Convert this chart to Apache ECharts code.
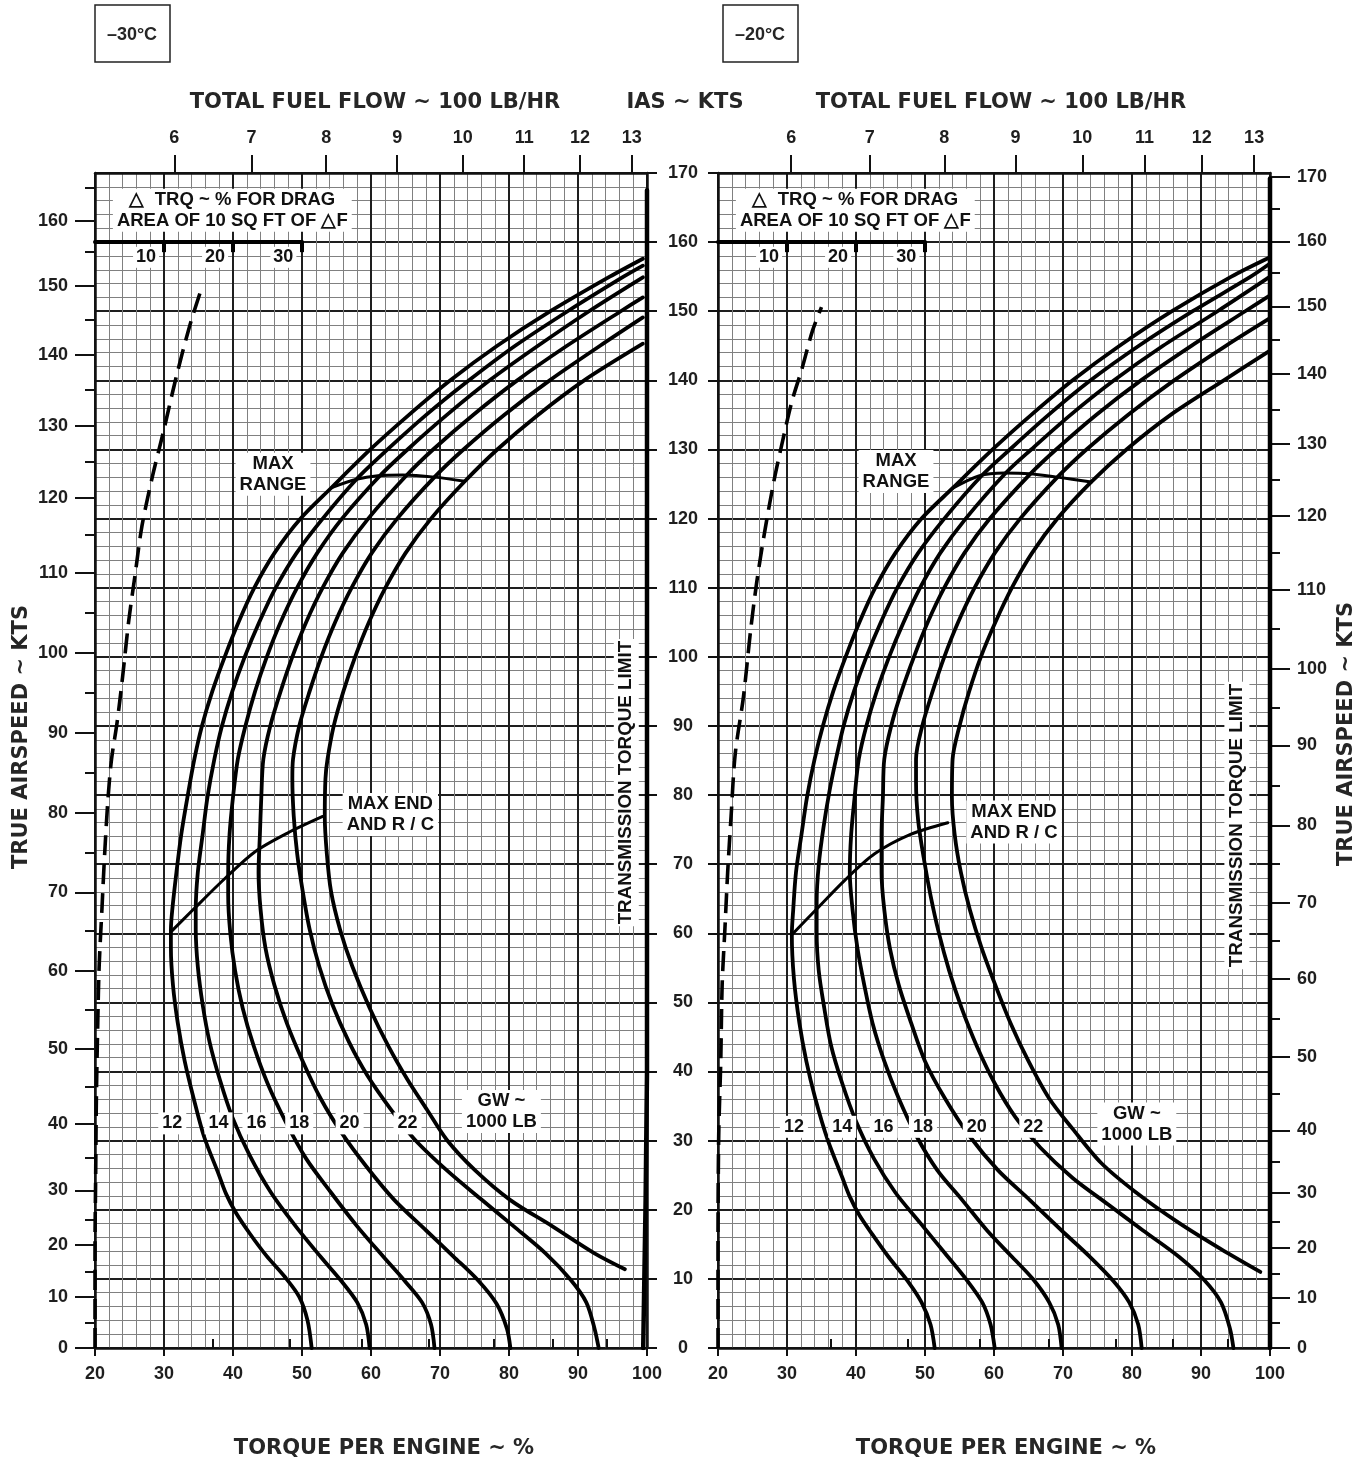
<!DOCTYPE html>
<html><head><meta charset="utf-8">
<script src="https://cdn.jsdelivr.net/npm/echarts@6/dist/echarts.min.js"></script>
<style>html,body{margin:0;padding:0;background:#fff}#c{width:1369px;height:1461px}</style>
</head><body><div id="c"></div>
<script>
// ---------------- DATA ----------------
const panelTemps = ['–30°C', '–20°C'];
const gwNames = ['12', '14', '16', '18', '20', '22'];

// top fuel-flow scale (100 LB/HR), each tick at the torque value it sits over
const ffLabels = ['6', '7', '8', '9', '10', '11', '12', '13'];
const ffTorqueL = [31.5, 42.7, 53.5, 63.8, 73.3, 82.2, 90.3, 97.8];
const ffMinorTorqueL = [37.1, 48.2, 58.7, 68.4, 77.8, 86.3, 94.1];
const ffTorqueR = [30.6, 42.0, 52.8, 63.1, 72.8, 81.8, 90.1, 97.7];
const ffMinorTorqueR = [36.3, 47.5, 58.0, 68.0, 77.7, 85.9, 93.9];

// true-airspeed scales, each tick at its IAS position
const tasLabelsL = ['0','10','20','30','40','50','60','70','80','90','100','110','120','130','140','150','160'];
const tasIasL = [0, 7.4, 14.9, 22.8, 32.4, 43.3, 54.6, 65.9, 77.4, 89.0, 100.6, 112.1, 123.0, 133.4, 143.7, 153.7, 163.1];
const tasMinorIasL = [3.7, 11.1, 18.5, 27.5, 37.8, 49.0, 60.3, 71.7, 83.2, 94.8, 106.4, 117.6, 128.2, 138.6, 148.7, 158.6, 167.8];
const tasLabelsR = ['0','10','20','30','40','50','60','70','80','90','100','110','120','130','140','150','160','170'];
const tasIasR = [0, 7.2, 14.5, 22.4, 31.5, 42.1, 53.4, 64.4, 75.6, 87.2, 98.3, 109.7, 120.4, 130.8, 140.9, 150.7, 160.1, 169.4];
const tasMinorIasR = [3.6, 10.8, 18.3, 26.9, 36.8, 47.7, 58.9, 70.0, 81.4, 92.7, 104.0, 115.0, 125.6, 135.8, 145.9, 155.6, 164.9];

// GW curves, -30C  [torque %, IAS kt]
const L12 = [[51.4,0],[50.8,4.0],[49.6,7.4],[47.5,10.3],[44.8,13.4],[42.4,16.6],[40.4,19.6],[39.0,22.3],[37.9,25.2],[35.8,30.6],[34.3,36.1],[33.0,41.5],[32.0,47.0],[31.3,52.5],[31.0,57.9],[31.0,60.5],[31.2,63.4],[31.8,68.8],[32.5,74.3],[33.4,79.7],[34.4,85.2],[35.5,90],[37.0,95],[38.8,100],[40.8,105],[43.1,110],[46.0,115],[49.8,120],[54.3,124.5],[59.9,130],[65.5,135],[71.5,140],[78.3,145],[86.0,150],[94.6,155],[99.4,157.6]];
const L14 = [[59.8,0],[59.3,3.4],[58.0,6.6],[55.7,9.7],[52.7,13.2],[49.1,17.6],[45.5,22.5],[42.4,27.9],[39.9,33.4],[38.1,38.8],[36.6,44.3],[35.6,49.7],[34.9,55.2],[34.6,60.6],[34.6,63.4],[34.9,68.8],[35.6,74.3],[36.3,79.7],[37.3,85.2],[38.4,90],[39.9,95],[41.7,100],[43.8,105],[46.2,110],[49.2,115],[53.0,120],[57.9,125.7],[62.4,130],[68.0,135],[74.2,140],[80.9,145],[88.5,150],[96.6,155],[99.4,156.6]];
const L16 = [[69.2,0],[68.7,3.4],[67.4,6.6],[64.9,9.7],[61.8,13.2],[58.0,17.6],[54.2,22.5],[50.6,27.4],[47.6,32.8],[45.0,38.3],[43.0,43.7],[41.4,49.2],[40.3,54.6],[39.6,60.1],[39.3,65.5],[39.3,68.8],[39.5,74.3],[40.0,79.7],[40.7,85.2],[41.8,90],[43.2,95],[44.9,100],[46.9,105],[49.3,110],[52.2,115],[55.8,120],[61.3,126.2],[65.3,130],[71.0,135],[77.2,140],[84.2,145],[91.6,150],[99.4,154.9]];
const L18 = [[80.2,0],[79.7,2.8],[78.2,6.4],[75.6,9.7],[72.0,13.2],[68.0,17.0],[63.4,21.4],[59.3,26.3],[55.7,31.2],[52.7,36.1],[50.1,41.5],[47.8,47.0],[46.0,52.5],[44.7,57.9],[44.0,63.4],[43.7,68.8],[43.9,74.3],[44.1,79.7],[44.4,85.2],[45.4,90],[46.9,95],[48.6,100],[50.6,105],[53.0,110],[55.9,115],[59.6,120],[65.2,126.3],[69.0,130],[74.8,135],[81.2,140],[88.4,145],[96.2,150],[99.4,152.0]];
const L20 = [[93.0,0],[92.4,2.8],[91.2,6.6],[88.9,9.9],[85.3,13.7],[80.7,17.6],[76.1,21.4],[71.0,25.7],[66.4,30.1],[62.9,34.5],[59.5,39.4],[56.8,44.3],[54.4,49.7],[52.5,55.2],[51.1,60.6],[50.1,66.1],[49.3,71.5],[48.8,77.0],[48.6,82.4],[48.7,85.2],[49.6,90],[51.1,95],[52.8,100],[54.8,105],[57.2,110],[60.1,115],[63.8,120],[69.2,126.0],[73.4,130],[79.3,135],[85.9,140],[93.2,145],[99.4,149.1]];
const L22 = [[96.8,11.4],[92.4,13.7],[86.3,17.6],[80.2,21.4],[75.1,25.7],[71.0,30.1],[68.1,34.5],[65.3,38.8],[62.5,43.7],[59.8,49.2],[57.3,55.2],[55.5,60.6],[54.2,66.1],[53.6,71.5],[53.3,76.9],[53.4,82.4],[53.7,85.2],[54.6,90],[56.0,95],[57.7,100],[59.7,105],[62.1,110],[65.0,115],[68.7,120],[73.6,125.4],[78.3,130],[84.2,135],[90.9,140],[99.4,145.3]];

// GW curves, -20C
const R12 = [[51.4,0],[50.8,3.4],[49.5,6.6],[47.7,9.4],[44.7,13.2],[42.4,16.4],[40.5,19.2],[39.1,21.9],[38.0,24.7],[35.9,30.1],[34.1,36.1],[32.8,41.5],[31.8,47.0],[31.0,53.5],[30.7,59.8],[30.9,63.4],[31.3,68.8],[32.1,74.3],[32.9,79.7],[34.0,85.2],[35.2,90],[36.7,95],[38.5,100],[40.5,105],[42.8,110],[45.7,115],[49.5,120],[54.0,124.4],[59.8,130],[65.4,135],[71.4,140],[78.2,145],[85.8,150],[94.4,155],[100,157.8]];
const R14 = [[60.1,0],[59.5,3.4],[58.3,6.6],[56.0,9.9],[52.9,13.7],[49.3,18.1],[45.7,22.5],[42.6,27.4],[40.0,32.8],[38.0,38.3],[36.4,43.7],[35.4,49.2],[34.6,54.6],[34.3,60.1],[34.3,64.5],[34.6,69.9],[35.3,75.4],[36.2,80.8],[37.1,85.2],[38.2,90],[39.7,95],[41.5,100],[43.6,105],[46.0,110],[49.0,115],[52.8,120],[58.2,126.2],[62.3,130],[67.9,135],[74.0,140],[81.0,145],[88.8,150],[97.2,155],[100,156.9]];
const R16 = [[69.8,0],[69.3,3.4],[68.0,6.6],[65.7,9.9],[62.6,13.2],[59.0,17.0],[55.4,21.4],[51.8,25.7],[48.8,30.6],[46.2,36.1],[44.1,41.5],[42.4,47.0],[41.2,52.5],[40.2,57.9],[39.5,63.4],[39.1,68.8],[39.3,74.3],[39.8,79.7],[40.4,85.2],[41.5,90],[43.0,95],[44.8,100],[46.9,105],[49.3,110],[52.2,115],[55.9,120],[61.7,126.6],[65.4,130],[71.1,135],[77.4,140],[84.5,145],[92.4,150],[100,155.0]];
const R18 = [[81.4,0],[80.9,3.4],[79.6,6.6],[77.3,9.7],[73.9,13.2],[69.8,17.0],[65.2,21.4],[60.6,25.7],[56.5,30.6],[52.9,36.1],[50.0,41.5],[48.0,47.0],[46.2,52.5],[44.9,57.9],[44.1,63.4],[43.7,68.8],[43.7,74.3],[43.9,79.7],[44.1,85.2],[45.1,90],[46.6,95],[48.4,100],[50.4,105],[52.8,110],[55.7,115],[59.4,120],[65.3,126.5],[69.0,130],[74.8,135],[81.3,140],[88.6,145],[96.4,150],[100,152.3]];
const R20 = [[94.7,0],[94.2,2.8],[92.9,6.6],[90.4,9.9],[86.8,13.2],[81.6,17.0],[76.5,20.8],[71.4,24.6],[66.7,29.0],[63.1,33.4],[60.1,38.3],[57.5,43.7],[55.3,49.2],[53.5,54.6],[52.0,60.1],[50.8,65.5],[49.8,71.0],[49.0,76.4],[48.7,81.9],[48.7,85.2],[49.6,90],[51.1,95],[52.8,100],[54.8,105],[57.2,110],[60.1,115],[63.8,120],[69.2,126.0],[73.4,130],[79.4,135],[86.1,140],[93.6,145],[100,149.0]];
const R22 = [[98.6,11.0],[92.9,14.3],[86.8,18.1],[80.6,22.5],[75.5,26.8],[71.4,31.7],[68.0,36.1],[65.0,41.5],[62.4,47.0],[60.2,52.5],[58.2,57.9],[56.5,63.4],[55.2,68.8],[54.3,74.3],[53.9,79.7],[54.0,85.2],[55.0,90],[56.4,95],[58.1,100],[60.2,105],[62.6,110],[65.5,115],[69.2,120],[74.1,125.3],[79.2,130],[85.6,135],[93.3,140],[100,144.3]];

// max endurance / max range lines
const maxEndL = [[31.0,60.2],[34.2,63.4],[38.9,68.0],[43.2,71.8],[47.9,74.5],[53.0,76.9]];
const maxEndR = [[30.7,59.8],[34.2,63.4],[38.4,67.7],[42.7,71.5],[47.9,74.3],[53.3,76.0]];
const maxRangeL = [[54.3,124.5],[57.9,125.7],[61.0,126.2],[64.6,126.3],[69.2,126.0],[73.6,125.4]];
const maxRangeR = [[54.0,124.4],[57.9,126.2],[61.5,126.6],[65.1,126.5],[69.2,126.0],[74.1,125.3]];

// delta-torque (drag) dashed lines
const dragL = [[20.0,0],[20.0,14.3],[20.1,25.2],[20.2,36.1],[20.4,47.0],[20.6,55.2],[21.0,63.4],[21.4,71.5],[21.9,79.7],[22.4,85.2],[23.2,90.5],[24.0,97.1],[24.9,105.3],[25.8,111.8],[26.8,118.9],[28.3,126.0],[29.9,132.5],[31.7,140.2],[33.7,147.8],[35.5,153.5]];
const dragR = [[20.0,0],[20.0,14.3],[20.1,30.6],[20.4,41.5],[20.6,52.5],[21.0,60.6],[21.4,68.8],[21.9,77.0],[22.5,86.0],[23.7,94.3],[24.7,103.6],[25.6,110.7],[26.8,118.3],[28.1,125.4],[29.4,131.4],[30.7,136.9],[32.2,141.8],[33.7,147.2],[35.0,150.6]];

// transmission torque limit
const limitL = [[99.45,0],[99.8,21.4],[100,40],[100,167.5]];
const limitR = [[100,0],[100,169.2]];

// delta TRQ scale: line, ticks, labels
const dScaleLine = [[20,160],[50,160]];
const dScaleTicks = [30, 40, 50];
const dScaleTickLen = [160, 158.55];
const dScaleLabels = ['10', '20', '30'];
const dScaleLabelPos = [[27.4,157.8],[37.4,157.8],[47.3,157.8]];

// annotation positions [torque, IAS]
const noteTexts = ['△  TRQ ~ % FOR DRAG\nAREA OF 10 SQ FT OF △F', 'MAX\nRANGE', 'MAX END\nAND R / C', 'GW ~\n1000 LB', 'TRANSMISSION TORQUE LIMIT'];
const notePosL = [[39.9,164.6],[45.8,126.4],[62.8,77.2],[78.9,34.2],[97.0,81.8]];
const notePosR = [[39.9,164.6],[45.8,126.8],[62.9,76.1],[80.7,32.4],[95.2,75.6]];
const gwLabelPosL = [[31.2,32.5],[37.9,32.5],[43.4,32.5],[49.6,32.5],[56.9,32.5],[65.3,32.5]];
const gwLabelPosR = [[31.0,32.0],[38.0,32.0],[44.0,32.0],[49.7,32.0],[57.5,32.0],[65.7,32.0]];

// ---------------- CHART ----------------
const FONT = '"Liberation Sans", Arial, Helvetica, sans-serif';
const TFONT = '"DejaVu Sans", sans-serif';
const INK = '#111';
const lblStyle = {fontFamily: FONT, fontWeight: 'bold', fontSize: 18, color: '#1e1e1e'};

const grids = [
  {left: 95, top: 173, width: 552, height: 1175, containLabel: false, outerBoundsMode: 'none'},
  {left: 718, top: 173, width: 552, height: 1175, containLabel: false, outerBoundsMode: 'none'}
];

function lookup(vals, labels) { return v => { const i = vals.indexOf(v); return i >= 0 ? labels[i] : ''; }; }

const axLine = {show: true, onZero: false, lineStyle: {color: INK, width: 2.5}};
const majorSplit = {show: true, lineStyle: {color: '#1e1e1e', width: 2}};
const minorSplit = {show: true, lineStyle: {color: '#808080', width: 1}};

function xAxesFor(g, ffT, ffMinorT) {
  return [
    {gridIndex: g, type: 'value', min: 20, max: 100, interval: 10, position: 'bottom',
     axisLine: axLine, axisTick: {length: 8, lineStyle: {color: INK, width: 2}},
     axisLabel: Object.assign({margin: 17}, lblStyle),
     splitLine: majorSplit, minorTick: {show: false, splitNumber: 5}, minorSplitLine: minorSplit},
    {gridIndex: g, type: 'value', min: 20, max: 100, position: 'top',
     axisLine: axLine, splitLine: {show: false},
     axisTick: {show: true, customValues: ffT, length: 18, lineStyle: {color: INK, width: 2}},
     axisLabel: Object.assign({show: true, customValues: ffT, margin: 26, formatter: lookup(ffT, ffLabels)}, lblStyle)},
    {gridIndex: g, type: 'value', min: 20, max: 100, position: 'top',
     axisLine: {show: false}, splitLine: {show: false}, axisLabel: {show: false},
     axisTick: {show: true, customValues: ffMinorT, length: 9, lineStyle: {color: INK, width: 2}}}
  ];
}

function yAxesFor(g, iasPos, showIasLabels, tasPos, tasVals, tasLabels, tasMinor) {
  const iasLabel = showIasLabels
    ? Object.assign({show: true, margin: 36, align: 'center'}, lblStyle)
    : {show: false};
  return [
    {gridIndex: g, type: 'value', min: 0, max: 170, interval: 10, position: iasPos,
     axisLine: axLine, axisTick: {length: 10, lineStyle: {color: INK, width: 2}},
     axisLabel: iasLabel,
     splitLine: majorSplit, minorTick: {show: false, splitNumber: 5}, minorSplitLine: minorSplit},
    {gridIndex: g, type: 'value', min: 0, max: 170, position: tasPos,
     axisLine: axLine, splitLine: {show: false},
     axisTick: {show: true, customValues: tasVals, length: 20, lineStyle: {color: INK, width: 2}},
     axisLabel: Object.assign({show: true, customValues: tasVals, margin: 27, formatter: lookup(tasVals, tasLabels)}, lblStyle)},
    {gridIndex: g, type: 'value', min: 0, max: 170, position: tasPos,
     axisLine: {show: false}, splitLine: {show: false}, axisLabel: {show: false},
     axisTick: {show: true, customValues: tasMinor, length: 10, lineStyle: {color: INK, width: 2}}}
  ];
}

function line(data, xi, yi, width, extra) {
  return Object.assign({type: 'line', xAxisIndex: xi, yAxisIndex: yi, data: data, symbol: 'none', showSymbol: false,
    smooth: 0.3, silent: true, animation: false, z: 5,
    lineStyle: {color: '#000', width: width, cap: 'round', join: 'round'}}, extra || {});
}

// text annotations drawn through the chart's own coordinate system (custom series)
function notes(xi, yi, notePos, gwPos) {
  const items = [];
  noteTexts.forEach((t, i) => items.push({t: t, p: notePos[i], rot: i === 4 ? Math.PI / 2 : 0,
    pad: i === 4 ? [3, 2, 1, 2] : [1, 4, 0, 4], size: i === 4 ? 18.8 : 18.5}));
  gwNames.forEach((g, i) => items.push({t: g, p: gwPos[i], rot: 0, pad: [1, 4, 0, 4], size: 18}));
  dScaleLabels.forEach((s, i) => items.push({t: s, p: dScaleLabelPos[i], rot: 0, pad: [0, 3, 0, 3], size: 18}));
  return {type: 'custom', xAxisIndex: xi, yAxisIndex: yi, silent: true, animation: false, z: 8,
    data: items.map(it => it.p),
    renderItem: function (params, api) {
      const it = items[params.dataIndex];
      const c = api.coord([api.value(0), api.value(1)]);
      return {type: 'text', x: c[0], y: c[1], rotation: it.rot,
        style: {text: it.t, fill: INK, font: 'bold ' + it.size + 'px ' + FONT, lineHeight: 21,
          align: 'center', verticalAlign: 'middle', backgroundColor: '#fff', padding: it.pad}};
    }};
}

function panelSeries(xi, yi, curves, maxEnd, maxRange, drag, limit, notePos, gwPos) {
  const s = [];
  curves.forEach(c => s.push(line(c, xi, yi, 3.8)));
  s.push(line(maxEnd, xi, yi, 3));
  s.push(line(maxRange, xi, yi, 3));
  s.push(line(drag, xi, yi, 3.6, {lineStyle: {color: '#000', width: 3.6, type: [20, 9]}}));
  s.push(line(limit, xi, yi, 4.5, {smooth: false, z: 6}));
  s.push(line(dScaleLine, xi, yi, 4, {smooth: false, z: 6}));
  dScaleTicks.forEach(t => s.push(line(dScaleTickLen.map(v => [t, v]), xi, yi, 4, {smooth: false, z: 6, lineStyle: {color: '#000', width: 4, cap: 'butt'}})));
  s.push(notes(xi, yi, notePos, gwPos));
  return s;
}

function gtext(x, y, text, font, rot) {
  return {type: 'text', x: x, y: y, rotation: rot || 0, z: 10,
    style: {text: text, font: font, fill: '#262626', textAlign: 'center', textVerticalAlign: 'middle', align: 'center', verticalAlign: 'middle'}};
}

const TITLE = 'bold 21px ' + TFONT;
const option = {
  backgroundColor: '#fff',
  animation: false,
  grid: grids,
  xAxis: xAxesFor(0, ffTorqueL, ffMinorTorqueL).concat(xAxesFor(1, ffTorqueR, ffMinorTorqueR)),
  yAxis: yAxesFor(0, 'right', true, 'left', tasIasL, tasLabelsL, tasMinorIasL)
    .concat(yAxesFor(1, 'left', false, 'right', tasIasR, tasLabelsR, tasMinorIasR)),
  series: panelSeries(0, 0, [L12, L14, L16, L18, L20, L22], maxEndL, maxRangeL, dragL, limitL, notePosL, gwLabelPosL)
    .concat(panelSeries(3, 3, [R12, R14, R16, R18, R20, R22], maxEndR, maxRangeR, dragR, limitR, notePosR, gwLabelPosR)),
  graphic: [
    {type: 'rect', shape: {x: 95, y: 5, width: 75, height: 57}, style: {fill: '#fff', stroke: '#222', lineWidth: 1.5}},
    {type: 'rect', shape: {x: 723, y: 5, width: 75, height: 57}, style: {fill: '#fff', stroke: '#222', lineWidth: 1.5}},
    gtext(132, 35, panelTemps[0], 'bold 18px ' + FONT),
    gtext(760, 35, panelTemps[1], 'bold 18px ' + FONT),
    gtext(375, 103, 'TOTAL FUEL FLOW ~ 100 LB/HR', TITLE),
    gtext(1001, 103, 'TOTAL FUEL FLOW ~ 100 LB/HR', TITLE),
    gtext(685, 103, 'IAS ~ KTS', TITLE),
    gtext(384, 1449, 'TORQUE PER ENGINE ~ %', TITLE),
    gtext(1006, 1449, 'TORQUE PER ENGINE ~ %', TITLE),
    gtext(22, 737, 'TRUE AIRSPEED ~ KTS', TITLE, Math.PI / 2),
    gtext(1347, 734, 'TRUE AIRSPEED ~ KTS', TITLE, Math.PI / 2)
  ]
};

const chart = echarts.init(document.getElementById('c'), null, {renderer: 'canvas', width: 1369, height: 1461});
chart.setOption(option);
</script></body></html>
